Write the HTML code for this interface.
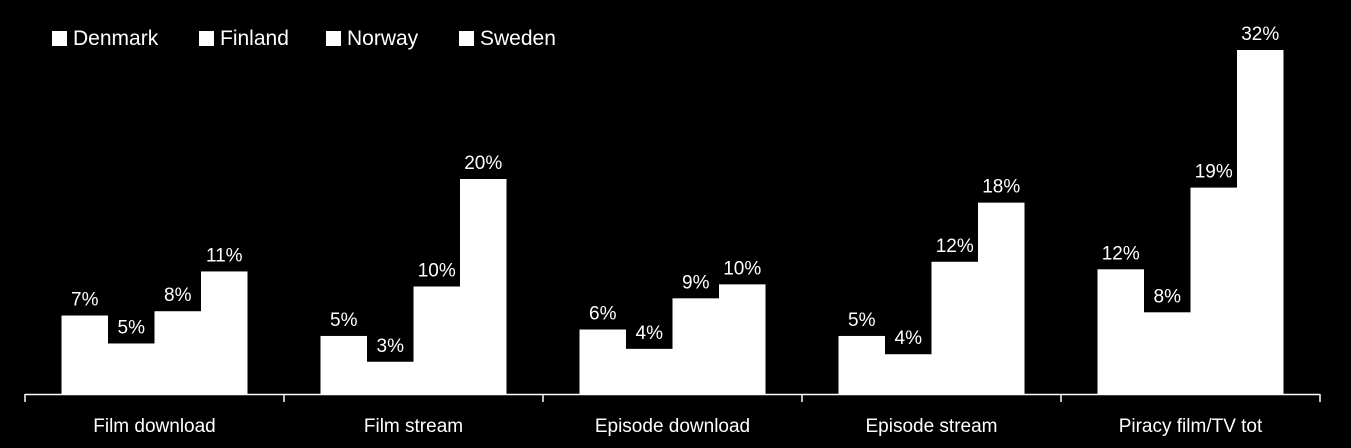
<!DOCTYPE html>
<html><head><meta charset="utf-8"><style>
html,body{margin:0;padding:0;background:#000;}
svg{display:block;font-family:"Liberation Sans",sans-serif;}
</style></head><body>
<svg id="chart" width="1351" height="448" viewBox="0 0 1351 448">
<g id="legend"></g>
<g id="bars"></g>
<g id="axis"></g>
</svg>
<script>
const categories = ["Film download","Film stream","Episode download","Episode stream","Piracy film/TV tot"];
const seriesNames = ["Denmark","Finland","Norway","Sweden"];
const denmark = [7.3, 5.4, 6.0, 5.4, 11.6];
const finland = [4.7, 3.0, 4.2, 3.7, 7.6];
const norway = [7.7, 10.0, 8.9, 12.3, 19.2];
const sweden = [11.4, 20.0, 10.2, 17.8, 32.0];
const labelsDenmark = ["7%","5%","6%","5%","12%"];
const labelsFinland = ["5%","3%","4%","4%","8%"];
const labelsNorway = ["8%","10%","9%","12%","19%"];
const labelsSweden = ["11%","20%","10%","18%","32%"];

const NS="http://www.w3.org/2000/svg";
const X0=25, X1=1320, BASE=394, PX=10.75;
const catW=(X1-X0)/categories.length, pad=36.5, barW=(catW-2*pad)/4;
function yScale(v){return BASE - v*PX;}
function xBar(ci,si){return X0+ci*catW+pad+si*barW;}
function mk(tag,attrs,parent){const e=document.createElementNS(NS,tag);for(const k in attrs)e.setAttribute(k,attrs[k]);parent.appendChild(e);return e;}

const series=[denmark,finland,norway,sweden];
const labels=[labelsDenmark,labelsFinland,labelsNorway,labelsSweden];
const bars=document.getElementById('bars');
series.forEach((vals,si)=>{
  vals.forEach((v,ci)=>{
    const x=xBar(ci,si), y=yScale(v);
    const r=mk('rect',{x:x,y:y,width:barW,height:BASE-y,fill:'#fff'},bars);
    
    
    const t=mk('text',{x:x+barW/2,y:y-10,fill:'#fff','font-size':19,'text-anchor':'middle'},bars);
    t.textContent=labels[si][ci];
    
    
  });
});
const axis=document.getElementById('axis');
const al=mk('line',{x1:X0,y1:BASE+0.5,x2:X1,y2:BASE+0.5,stroke:'#fff','stroke-width':1.5},axis);


for(let i=0;i<=categories.length;i++){
  const x=X0+i*catW;
  const tk=mk('line',{x1:x,y1:BASE,x2:x,y2:BASE+8,stroke:'#fff','stroke-width':1.5},axis);
  
  
}
categories.forEach((c,ci)=>{
  const t=mk('text',{x:X0+ci*catW+catW/2,y:432,fill:'#fff','font-size':19,'text-anchor':'middle'},axis);
  t.textContent=c;
  
  
});
const legend=document.getElementById('legend');
const legX=[52,199,326,459];
seriesNames.forEach((n,i)=>{
  const g=mk('g',{},legend);
  
  
  mk('rect',{x:legX[i],y:31,width:15,height:15,fill:'#fff'},g);
  const t=mk('text',{x:legX[i]+21,y:45,fill:'#fff','font-size':21},g);
  t.textContent=n;
});
</script>
</body></html>
